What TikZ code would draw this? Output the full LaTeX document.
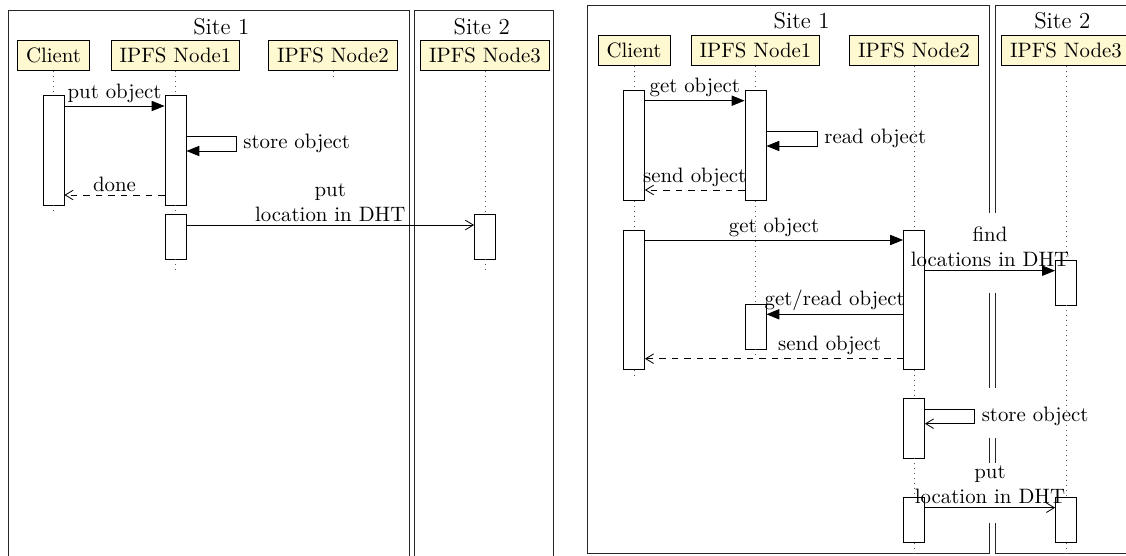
\documentclass[tikz,border=0pt]{standalone}
\usetikzlibrary{arrows.meta}
\definecolor{hdrfill}{RGB}{255,249,210}
\begin{document}
\begin{tikzpicture}[x=0.48pt,y=-0.48pt,
 hdr/.style={draw, fill=hdrfill, minimum height=14.4pt, inner xsep=4.1pt, inner ysep=0pt},
 act/.style={draw, fill=white, minimum width=10.08pt, inner sep=0pt},
 life/.style={dotted, draw=black!65},
 siteframe/.style={draw=black!85},
 call/.style={-{Triangle[length=6.2pt,width=4.9pt]}},
 ret/.style={dashed, -{Straight Barb[length=3.8pt,width=4.6pt]}},
 async/.style={-{Straight Barb[length=3.8pt,width=4.6pt]}},
 lbl/.style={above, inner sep=1.5pt},
 sitelbl/.style={anchor=base, font=\fontsize{11}{13}\selectfont}]
\useasboundingbox (0,0) rectangle (1126,556);

% ================= LEFT DIAGRAM =================
\draw[siteframe] (8,560) -- (8,10.7) -- (409,10.7) -- (409,560);
\draw[siteframe] (414.5,560) -- (414.5,10.7) -- (553,10.7) -- (553,560);
\node[sitelbl] (lS1) at (221.3,34.5) {Site 1};
\node[sitelbl] (lS2) at (481.7,34.5) {Site 2};

\node[hdr] (lhC) at (53.5,55.7) {Client};
\node[hdr] (lh1) at (175.5,55.7) {IPFS Node1};
\node[hdr] (lh2) at (333,55.7) {IPFS Node2};
\node[hdr] (lh3) at (485,55.7) {IPFS Node3};

\node[act, minimum height={109.3*0.48pt}] (lca1) at (53.5,150.35) {};
\node[act, minimum height={109.3*0.48pt}] (lna1) at (175.5,150.35) {};
\node[act, minimum height={45*0.48pt}] (lna2) at (175.5,236.5) {};
\node[act, minimum height={45*0.48pt}] (lnc1) at (485,236.5) {};

\coordinate (lendC) at (53.5,214);
\coordinate (lend1) at (175.5,271);
\coordinate (lend2) at (333,77);
\coordinate (lend3) at (485,271);

\draw[life] (lhC.south) -- (lca1.north);
\draw[life] (lca1.south) -- (lendC);
\draw[life] (lh1.south) -- (lna1.north);
\draw[life] (lna1.south) -- (lna2.north);
\draw[life] (lna2.south) -- (lend1);
\draw[life] (lh2.south) -- (lend2);
\draw[life] (lh3.south) -- (lnc1.north);
\draw[life] (lnc1.south) -- (lend3);

\draw[call] (lca1.east |- 0,106) -- node[lbl] (lm1) {put object} (lna1.west |- 0,106);
\draw[call] (lna1.east |- 0,136) -- (236,136) -- node[right] (lm2) {store object} (236,151) -- (lna1.east |- 0,151);
\draw[ret] (lna1.west |- 0,195) -- node[lbl] (lm3) {done} (lca1.east |- 0,195);
\draw[async] (lna2.east |- 0,225) -- node[lbl, align=center] (lm4) {put\\location in DHT} (lnc1.west |- 0,225);

% ================= RIGHT DIAGRAM =================
\draw[siteframe] (989.4,213) -- (989.4,5) -- (587.7,5) -- (587.7,553.3) -- (989.4,553.3) -- (989.4,523);
\draw[siteframe] (989.4,293) -- (989.4,388);
\draw[siteframe] (989.4,438) -- (989.4,463);
\draw[siteframe] (995,213) -- (995,5) -- (1140,5);
\draw[siteframe] (995,523) -- (995,553.3) -- (1140,553.3);
\draw[siteframe] (995,293) -- (995,388);
\draw[siteframe] (995,438) -- (995,463);
\node[sitelbl] (rS1) at (801.6,29) {Site 1};
\node[sitelbl] (rS2) at (1062.3,29) {Site 2};

\node[hdr] (rhC) at (634,50.85) {Client};
\node[hdr] (rh1) at (755.5,50.85) {IPFS Node1};
\node[hdr] (rh2) at (914,50.85) {IPFS Node2};
\node[hdr] (rh3) at (1066,50.85) {IPFS Node3};

\node[act, minimum height={110.7*0.48pt}] (rca1) at (634,145.35) {};
\node[act, minimum height={139.3*0.48pt}] (rca2) at (634,299.65) {};
\node[act, minimum height={110.7*0.48pt}] (rna1) at (755.5,145.35) {};
\node[act, minimum height={45*0.48pt}] (rna2) at (755.5,326.5) {};
\node[act, minimum height={139.3*0.48pt}] (rnb1) at (914,299.65) {};
\node[act, minimum height={60*0.48pt}] (rnb2) at (914,428) {};
\node[act, minimum height={44.6*0.48pt}] (rnb3) at (914,520) {};
\node[act, minimum height={45*0.48pt}] (rnc1) at (1066,282.5) {};
\node[act, minimum height={44.6*0.48pt}] (rnc2) at (1066,520) {};

\coordinate (rendC) at (634,378);
\coordinate (rend1) at (755.5,358.7);
\coordinate (rend2) at (914,553.3);
\coordinate (rend3) at (1066,553.3);

\draw[life] (rhC.south) -- (rca1.north);
\draw[life] (rca1.south) -- (rca2.north);
\draw[life] (rca2.south) -- (rendC);
\draw[life] (rh1.south) -- (rna1.north);
\draw[life] (rna1.south) -- (rna2.north);
\draw[life] (rna2.south) -- (rend1);
\draw[life] (rh2.south) -- (rnb1.north);
\draw[life] (rnb1.south) -- (rnb2.north);
\draw[life] (rnb2.south) -- (rnb3.north);
\draw[life] (rnb3.south) -- (rend2);
\draw[life] (rh3.south) -- (rnc1.north);
\draw[life] (rnc1.south) -- (rnc2.north);
\draw[life] (rnc2.south) -- (rend3);

\draw[call] (rca1.east |- 0,100.7) -- node[lbl] (rm1) {get object} (rna1.west |- 0,100.7);
\draw[call] (rna1.east |- 0,131.7) -- (817,131.7) -- node[right] (rm2) {read object} (817,146) -- (rna1.east |- 0,146);
\draw[ret] (rna1.west |- 0,190) -- node[lbl] (rm3) {send object} (rca1.east |- 0,190);
\draw[call] (rca2.east |- 0,240) -- node[lbl] (rm4) {get object} (rnb1.west |- 0,240);
\draw[call] (rnb1.east |- 0,270.7) -- node[lbl, align=center] (rm5) {find\\locations in DHT} (rnc1.west |- 0,270.7);
\draw[call] (rnb1.west |- 0,314.3) -- node[lbl] (rm6) {get/read object} (rna2.east |- 0,314.3);
\draw[ret] (rnb1.west |- 0,358.7) -- node[lbl, pos=0.284] (rm7) {send object} (rca2.east |- 0,358.7);
\draw[async] (rnb2.east |- 0,409) -- (974.4,409) -- node[right] (rm8) {store object} (974.4,423.7) -- (rnb2.east |- 0,423.7);
\draw[async] (rnb3.east |- 0,507.7) -- node[lbl, align=center] (rm9) {put\\location in DHT} (rnc2.west |- 0,507.7);
\end{tikzpicture}
\end{document}
